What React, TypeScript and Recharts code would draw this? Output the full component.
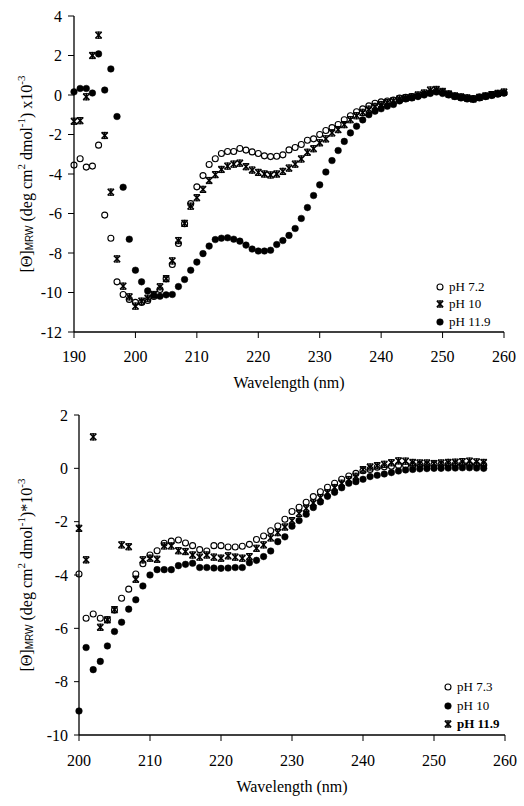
import React from 'react';
import { ScatterChart, Scatter, XAxis, YAxis, Legend } from 'recharts';

const FONT = "'Liberation Serif', 'Times New Roman', serif";

// ---------- Top chart data ----------
const topWavelengths = [
  190, 191, 192, 193, 194, 195, 196, 197, 198, 199,
  200, 201, 202, 203, 204, 205, 206, 207, 208, 209,
  210, 211, 212, 213, 214, 215, 216, 217, 218, 219,
  220, 221, 222, 223, 224, 225, 226, 227, 228, 229,
  230, 231, 232, 233, 234, 235, 236, 237, 238, 239,
  240, 241, 242, 243, 244, 245, 246, 247, 248, 249,
  250, 251, 252, 253, 254, 255, 256, 257, 258, 259, 260,
];
const topPH72 = [
  -3.55, -3.23, -3.65, -3.6, -2.54, -6.08, -7.25, -9.46, -10.1, -10.35,
  -10.5, -10.5, -10.4, -10.2, -9.85, -9.3, -8.58, -7.52, -6.52, -5.5,
  -4.65, -4.08, -3.52, -3.23, -2.96, -2.86, -2.86, -2.71, -2.79, -2.88,
  -2.96, -3.08, -3.12, -3.1, -3.03, -2.78, -2.66, -2.51, -2.29, -2.22,
  -2.0, -1.8, -1.65, -1.49, -1.25, -1.05, -0.85, -0.7, -0.55, -0.42,
  -0.35, -0.3, -0.25, -0.15, -0.12, -0.08, -0.05, 0.05, 0.12, 0.2,
  0.15, 0.05, -0.05, -0.1, -0.15, -0.18, -0.1, -0.05, 0.0, 0.05, 0.1,
];
const topPH10 = [
  -1.33, -1.3, -0.09, 2.0, 3.03, -2.05, -4.92, -8.3, -9.68, -10.22,
  -10.69, -10.44, -10.29, -10.1, -9.71, -9.3, -8.4, -7.37, -6.5, -5.63,
  -5.2, -4.78, -4.33, -4.03, -3.77, -3.6, -3.5, -3.45, -3.63, -3.8,
  -3.92, -4.0, -4.05, -4.0, -3.87, -3.7, -3.5, -3.24, -2.9, -2.72,
  -2.42, -2.22, -1.92, -1.75, -1.5, -1.25, -1.05, -0.88, -0.72, -0.58,
  -0.48, -0.38, -0.3, -0.2, -0.15, -0.1, 0.0, 0.1, 0.25, 0.28,
  0.18, 0.05, -0.05, -0.1, -0.15, -0.2, -0.12, -0.05, 0.02, 0.08, 0.15,
];
const topPH119 = [
  0.16, 0.33, 0.33, 0.1, 2.08, 0.25, 1.32, -1.09, -4.67, -7.3,
  -8.87, -9.46, -9.92, -10.15, -10.19, -10.12, -10.1, -9.7, -9.34, -8.87,
  -8.46, -8.03, -7.65, -7.32, -7.25, -7.23, -7.3, -7.4, -7.6, -7.8,
  -7.9, -7.9, -7.86, -7.57, -7.37, -7.11, -6.76, -6.25, -5.7, -5.09,
  -4.55, -3.9, -3.32, -2.81, -2.35, -1.92, -1.58, -1.26, -1.0, -0.82,
  -0.7, -0.57, -0.48, -0.3, -0.2, -0.15, -0.08, 0.0, 0.08, 0.15,
  0.08, 0.0, -0.08, -0.15, -0.2, -0.22, -0.15, -0.08, -0.02, 0.05, 0.1,
];
const topXTicks = [190, 200, 210, 220, 230, 240, 250, 260];
const topYTicks = [-12, -10, -8, -6, -4, -2, 0, 2, 4];
const topLegendLabels = ['pH 7.2', 'pH 10', 'pH 11.9'];

// ---------- Bottom chart data ----------
const botWavelengths = [
  200, 201, 202, 203, 204, 205, 206, 207, 208, 209,
  210, 211, 212, 213, 214, 215, 216, 217, 218, 219,
  220, 221, 222, 223, 224, 225, 226, 227, 228, 229,
  230, 231, 232, 233, 234, 235, 236, 237, 238, 239,
  240, 241, 242, 243, 244, 245, 246, 247, 248, 249,
  250, 251, 252, 253, 254, 255, 256, 257,
];
const botPH73 = [
  -3.96, -5.62, -5.46, -5.62, -5.68, -5.31, -4.87, -4.53, -3.96, -3.58,
  -3.25, -3.09, -2.81, -2.73, -2.69, -2.8, -2.9, -3.05, -3.1, -2.9,
  -2.9, -2.95, -2.95, -2.92, -2.85, -2.67, -2.54, -2.34, -2.16, -1.91,
  -1.62, -1.46, -1.27, -1.06, -0.88, -0.71, -0.56, -0.41, -0.29, -0.19,
  -0.09, -0.04, 0.04, 0.06, 0.08, 0.11, 0.12, 0.12, 0.13, 0.12,
  0.13, 0.14, 0.14, 0.15, 0.15, 0.14, 0.13, 0.12,
];
const botPH10 = [
  -9.1, -6.72, -7.55, -7.24, -6.66, -6.12, -5.77, -5.28, -4.93, -4.41,
  -4.0, -3.8, -3.8, -3.8, -3.65, -3.6, -3.56, -3.72, -3.72, -3.74,
  -3.75, -3.74, -3.72, -3.72, -3.54, -3.45, -3.31, -3.1, -2.75, -2.57,
  -2.17, -1.96, -1.72, -1.47, -1.26, -1.05, -0.9, -0.73, -0.56, -0.5,
  -0.41, -0.31, -0.26, -0.21, -0.16, -0.1, -0.06, -0.04, -0.02, -0.01,
  0.0, 0.0, 0.01, 0.01, 0.02, 0.02, 0.01, 0.0,
];
const botPH119 = [
  -2.25, -3.43, 1.18, -5.96, -5.68, -5.3, -2.87, -2.94, -4.16, -3.43,
  -3.37, -3.41, -2.91, -2.91, -3.09, -3.12, -3.25, -3.33, -3.25, -3.33,
  -3.37, -3.28, -3.33, -3.37, -3.31, -3.0, -2.87, -2.61, -2.41, -2.2,
  -1.96, -1.69, -1.5, -1.3, -1.1, -0.92, -0.72, -0.56, -0.42, -0.3,
  -0.05, 0.05, 0.1, 0.15, 0.21, 0.28, 0.27, 0.22, 0.2, 0.2,
  0.18, 0.2, 0.22, 0.23, 0.25, 0.27, 0.24, 0.22,
];
const botXTicks = [200, 210, 220, 230, 240, 250, 260];
const botYTicks = [-10, -8, -6, -4, -2, 0, 2];
const botLegendLabels = ['pH 7.3', 'pH 10', 'pH 11.9'];

const toPoints = (xs: number[], ys: number[]) => xs.map((x, i) => ({ x, y: ys[i] }));

// ---------- Marker shapes ----------
const OpenCircle = (props: any) => {
  const { cx, cy } = props;
  if (cx == null || cy == null) return null;
  return <circle cx={cx} cy={cy} r={3} fill="none" stroke="#000" strokeWidth={1.1} />;
};
const FilledCircle = (props: any) => {
  const { cx, cy } = props;
  if (cx == null || cy == null) return null;
  return <circle cx={cx} cy={cy} r={3.3} fill="#000" stroke="#000" strokeWidth={0.5} />;
};
const StarMark = (props: any) => {
  const { cx, cy } = props;
  if (cx == null || cy == null) return null;
  const s = 3.1;
  return (
    <g stroke="#000" strokeWidth={1.5}>
      <line x1={cx - s} y1={cy - s} x2={cx + s} y2={cy + s} />
      <line x1={cx - s} y1={cy + s} x2={cx + s} y2={cy - s} />
      <line x1={cx} y1={cy - s - 0.5} x2={cx} y2={cy + s + 0.5} />
      <line x1={cx - s} y1={cy - s} x2={cx + s} y2={cy - s} strokeWidth={1} />
      <line x1={cx - s} y1={cy + s} x2={cx + s} y2={cy + s} strokeWidth={1} />
    </g>
  );
};

const MarkerIcon = ({ kind }: { kind: string }) => (
  <svg width={12} height={12} style={{ display: 'block' }}>
    {kind === 'open' && <OpenCircle cx={6} cy={6} />}
    {kind === 'filled' && <FilledCircle cx={6} cy={6} />}
    {kind === 'star' && <StarMark cx={6} cy={6} />}
  </svg>
);

const makeLegend = (labels: string[], kinds: string[], rowH: number, bold: boolean[]) => () => (
  <div style={{ fontFamily: FONT, fontSize: 13, color: '#000' }}>
    {labels.map((l, i) => (
      <div key={l} style={{ display: 'flex', alignItems: 'center', height: rowH }}>
        <MarkerIcon kind={kinds[i]} />
        <span style={{ marginLeft: 3, fontWeight: bold[i] ? 'bold' : 'normal', whiteSpace: 'nowrap' }}>{l}</span>
      </div>
    ))}
  </div>
);

// ---------- Axis titles ----------
const YTitle = (props: any) => {
  const { viewBox, tail } = props;
  if (!viewBox) return null;
  const cx = 28;
  const cy = viewBox.y + viewBox.height / 2;
  return (
    <text
      x={cx}
      y={cy}
      transform={`rotate(-90 ${cx} ${cy})`}
      textAnchor="middle"
      dominantBaseline="middle"
      fontFamily={FONT}
      fontSize={16}
      fill="#000"
    >
      <tspan>[Θ]</tspan>
      <tspan fontSize={10} fontFamily="'Liberation Sans', Arial, sans-serif" dy={2}>MRW</tspan>
      <tspan dy={-2}> (deg cm</tspan>
      <tspan fontSize={11} dy={-6}>2</tspan>
      <tspan dy={6}> dmol</tspan>
      <tspan fontSize={11} dy={-6}>-1</tspan>
      <tspan dy={6}>{tail}</tspan>
      <tspan fontSize={11} dy={-6}>-3</tspan>
    </text>
  );
};

const XTitle = (props: any) => {
  const { viewBox, base } = props;
  if (!viewBox) return null;
  return (
    <text
      x={viewBox.x + viewBox.width / 2}
      y={viewBox.y + base}
      textAnchor="middle"
      fontFamily={FONT}
      fontSize={16}
      fill="#000"
    >
      Wavelength (nm)
    </text>
  );
};

const tickStyle = { fill: '#000', fontSize: 16, fontFamily: FONT };
const axisLine = { stroke: '#000', strokeWidth: 1.3 };
const tickLine = { stroke: '#000', strokeWidth: 1 };

export default function App() {
  const top72 = toPoints(topWavelengths, topPH72);
  const top10 = toPoints(topWavelengths, topPH10);
  const top119 = toPoints(topWavelengths, topPH119);
  const bot73 = toPoints(botWavelengths, botPH73);
  const bot10 = toPoints(botWavelengths, botPH10);
  const bot119 = toPoints(botWavelengths, botPH119);

  return (
    <div style={{ position: 'absolute', left: 0, top: 0, width: 524, height: 806, background: '#fff' }}>
      <div style={{ position: 'absolute', left: 0, top: 0 }}>
        <ScatterChart width={524} height={400} margin={{ top: 16, right: 20, bottom: 0, left: 0 }}>
          <XAxis
            dataKey="x"
            type="number"
            domain={[190, 260]}
            ticks={topXTicks}
            interval={0}
            tickSize={6}
            tickMargin={13}
            height={68}
            tick={tickStyle}
            axisLine={axisLine}
            tickLine={tickLine}
            label={<XTitle base={56} />}
          />
          <XAxis xAxisId="top" orientation="top" dataKey="x" type="number" domain={[190, 260]} height={0} tick={false} tickLine={false} axisLine={axisLine} />
          <YAxis
            dataKey="y"
            type="number"
            domain={[-12, 4]}
            ticks={topYTicks}
            interval={0}
            tickSize={6}
            tickMargin={6}
            width={74}
            tick={tickStyle}
            axisLine={axisLine}
            tickLine={tickLine}
            label={<YTitle tail=") x10" />}
          />
          <YAxis yAxisId="right" orientation="right" dataKey="y" type="number" domain={[-12, 4]} width={0} tick={false} tickLine={false} axisLine={axisLine} />
          <Scatter name="pH 7.2" data={top72} shape={OpenCircle} isAnimationActive={false} />
          <Scatter name="pH 10" data={top10} shape={StarMark} isAnimationActive={false} />
          <Scatter name="pH 11.9" data={top119} shape={FilledCircle} isAnimationActive={false} />
          <Legend
            layout="vertical"
            align="center"
            verticalAlign="middle"
            content={makeLegend(topLegendLabels, ['open', 'star', 'filled'], 17.5, [false, false, false])}
            wrapperStyle={{ left: 434, top: 278, width: 70 }}
          />
        </ScatterChart>
      </div>
      <div style={{ position: 'absolute', left: 0, top: 400 }}>
        <ScatterChart width={524} height={406} margin={{ top: 15, right: 19, bottom: 0, left: 0 }}>
          <XAxis
            dataKey="x"
            type="number"
            domain={[200, 260]}
            ticks={botXTicks}
            interval={0}
            tickSize={6}
            tickMargin={14}
            height={71}
            tick={tickStyle}
            axisLine={axisLine}
            tickLine={tickLine}
            label={<XTitle base={57} />}
          />
          <XAxis xAxisId="top" orientation="top" dataKey="x" type="number" domain={[200, 260]} height={0} tick={false} tickLine={false} axisLine={axisLine} />
          <YAxis
            dataKey="y"
            type="number"
            domain={[-10, 2]}
            ticks={botYTicks}
            interval={0}
            tickSize={5}
            tickMargin={6}
            width={79}
            tick={tickStyle}
            axisLine={axisLine}
            tickLine={tickLine}
            label={<YTitle tail=")*10" />}
          />
          <YAxis yAxisId="right" orientation="right" dataKey="y" type="number" domain={[-10, 2]} width={0} tick={false} tickLine={false} axisLine={axisLine} />
          <Scatter name="pH 7.3" data={bot73} shape={OpenCircle} isAnimationActive={false} />
          <Scatter name="pH 10" data={bot10} shape={FilledCircle} isAnimationActive={false} />
          <Scatter name="pH 11.9" data={bot119} shape={StarMark} isAnimationActive={false} />
          <Legend
            layout="vertical"
            align="center"
            verticalAlign="middle"
            content={makeLegend(botLegendLabels, ['open', 'filled', 'star'], 18.5, [false, false, true])}
            wrapperStyle={{ left: 442, top: 278, width: 62 }}
          />
        </ScatterChart>
      </div>
    </div>
  );
}
